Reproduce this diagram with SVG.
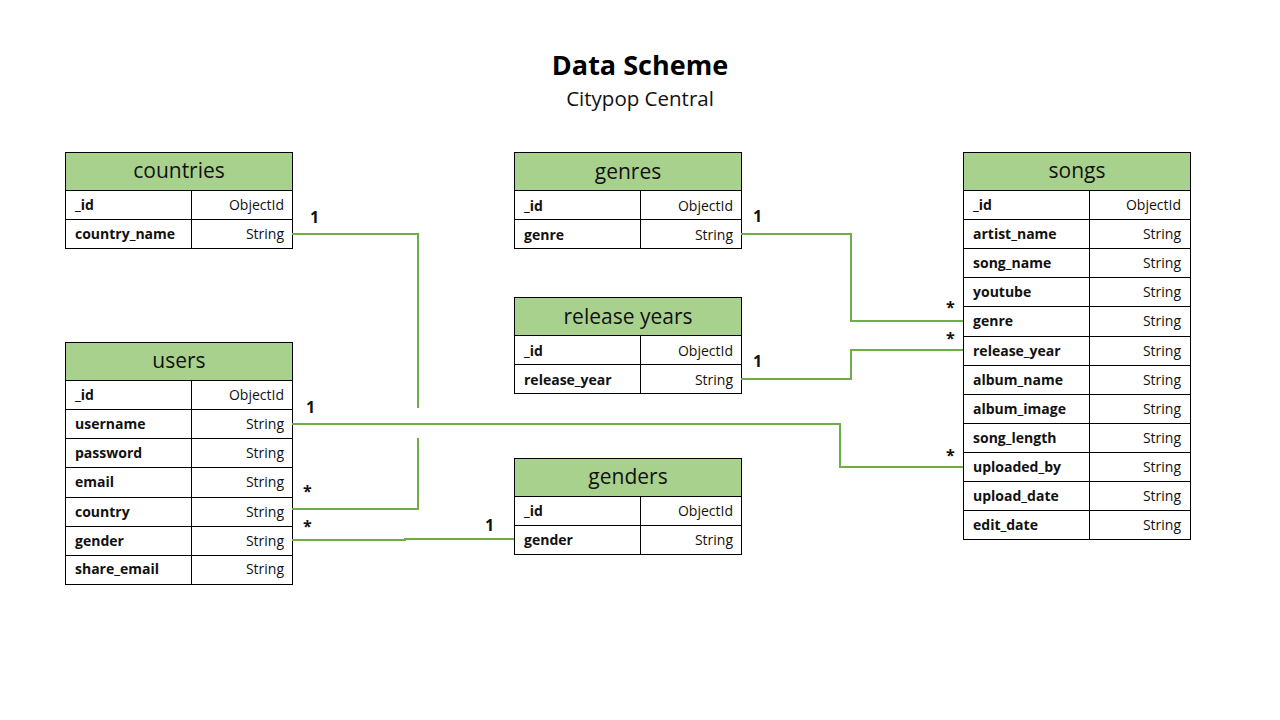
<svg xmlns="http://www.w3.org/2000/svg" width="1280" height="720" viewBox="0 0 1280 720">
<style>
.hd{fill:#A9D18E;stroke:#000;stroke-width:1}
.cell{fill:#fff;stroke:#000;stroke-width:1}
.ht{font-family:"Open Sans","Liberation Sans",sans-serif;font-size:21px;fill:#111;text-anchor:middle}
.fn{font-family:"Open Sans","Liberation Sans",sans-serif;font-size:14px;font-weight:bold;fill:#111}
.ty{font-family:"Open Sans","Liberation Sans",sans-serif;font-size:14px;fill:#111;text-anchor:end}
.conn{fill:none;stroke:#70AD47;stroke-width:2}
.lbl{font-family:"Open Sans","Liberation Sans",sans-serif;font-size:16px;font-weight:bold;fill:#111}
.title{font-family:"Open Sans","Liberation Sans",sans-serif;font-size:27px;font-weight:bold;fill:#000;text-anchor:middle}
.sub{font-family:"Open Sans","Liberation Sans",sans-serif;font-size:20.5px;fill:#111;text-anchor:middle}
</style>
<rect width="1280" height="720" fill="#fff"/>
<text class="title" x="640" y="75">Data Scheme</text>
<text class="sub" x="640" y="106">Citypop Central</text>

<g id="countries">
<rect class="hd" x="65.5" y="152.5" width="227" height="38"/>
<text class="ht" x="179" y="178">countries</text>
<rect class="cell" x="65.5" y="190.5" width="126" height="29"/><rect class="cell" x="191.5" y="190.5" width="101" height="29"/>
<text class="fn" x="75" y="210">_id</text><text class="ty" x="284" y="210">ObjectId</text>
<rect class="cell" x="65.5" y="219.5" width="126" height="29"/><rect class="cell" x="191.5" y="219.5" width="101" height="29"/>
<text class="fn" x="75" y="239">country_name</text><text class="ty" x="284" y="239">String</text>
</g>

<g id="users">
<rect class="hd" x="65.5" y="342.5" width="227" height="38"/>
<text class="ht" x="179" y="368">users</text>
<rect class="cell" x="65.5" y="380.5" width="126" height="29"/><rect class="cell" x="191.5" y="380.5" width="101" height="29"/>
<text class="fn" x="75" y="400">_id</text><text class="ty" x="284" y="400">ObjectId</text>
<rect class="cell" x="65.5" y="409.5" width="126" height="29"/><rect class="cell" x="191.5" y="409.5" width="101" height="29"/>
<text class="fn" x="75" y="429">username</text><text class="ty" x="284" y="429">String</text>
<rect class="cell" x="65.5" y="438.5" width="126" height="29"/><rect class="cell" x="191.5" y="438.5" width="101" height="29"/>
<text class="fn" x="75" y="458">password</text><text class="ty" x="284" y="458">String</text>
<rect class="cell" x="65.5" y="467.5" width="126" height="30"/><rect class="cell" x="191.5" y="467.5" width="101" height="30"/>
<text class="fn" x="75" y="487">email</text><text class="ty" x="284" y="487">String</text>
<rect class="cell" x="65.5" y="497.5" width="126" height="29"/><rect class="cell" x="191.5" y="497.5" width="101" height="29"/>
<text class="fn" x="75" y="517">country</text><text class="ty" x="284" y="517">String</text>
<rect class="cell" x="65.5" y="526.5" width="126" height="29"/><rect class="cell" x="191.5" y="526.5" width="101" height="29"/>
<text class="fn" x="75" y="546">gender</text><text class="ty" x="284" y="546">String</text>
<rect class="cell" x="65.5" y="555.5" width="126" height="29"/><rect class="cell" x="191.5" y="555.5" width="101" height="29"/>
<text class="fn" x="75" y="574">share_email</text><text class="ty" x="284" y="574">String</text>
</g>

<g id="genres">
<rect class="hd" x="514.5" y="152.5" width="227" height="38"/>
<text class="ht" x="628" y="179">genres</text>
<rect class="cell" x="514.5" y="190.5" width="126" height="29"/><rect class="cell" x="640.5" y="190.5" width="101" height="29"/>
<text class="fn" x="524" y="211">_id</text><text class="ty" x="733" y="211">ObjectId</text>
<rect class="cell" x="514.5" y="219.5" width="126" height="29"/><rect class="cell" x="640.5" y="219.5" width="101" height="29"/>
<text class="fn" x="524" y="240">genre</text><text class="ty" x="733" y="240">String</text>
</g>

<g id="release-years">
<rect class="hd" x="514.5" y="297.5" width="227" height="38"/>
<text class="ht" x="628" y="324">release years</text>
<rect class="cell" x="514.5" y="335.5" width="126" height="29"/><rect class="cell" x="640.5" y="335.5" width="101" height="29"/>
<text class="fn" x="524" y="356">_id</text><text class="ty" x="733" y="356">ObjectId</text>
<rect class="cell" x="514.5" y="364.5" width="126" height="29"/><rect class="cell" x="640.5" y="364.5" width="101" height="29"/>
<text class="fn" x="524" y="385">release_year</text><text class="ty" x="733" y="385">String</text>
</g>

<g id="genders">
<rect class="hd" x="514.5" y="458.5" width="227" height="38"/>
<text class="ht" x="628" y="484">genders</text>
<rect class="cell" x="514.5" y="496.5" width="126" height="29"/><rect class="cell" x="640.5" y="496.5" width="101" height="29"/>
<text class="fn" x="524" y="516">_id</text><text class="ty" x="733" y="516">ObjectId</text>
<rect class="cell" x="514.5" y="525.5" width="126" height="29"/><rect class="cell" x="640.5" y="525.5" width="101" height="29"/>
<text class="fn" x="524" y="545">gender</text><text class="ty" x="733" y="545">String</text>
</g>

<g id="songs">
<rect class="hd" x="963.5" y="152.5" width="227" height="38"/>
<text class="ht" x="1077" y="178">songs</text>
<rect class="cell" x="963.5" y="190.5" width="126" height="29"/><rect class="cell" x="1089.5" y="190.5" width="101" height="29"/>
<text class="fn" x="973" y="210">_id</text><text class="ty" x="1181" y="210">ObjectId</text>
<rect class="cell" x="963.5" y="219.5" width="126" height="29"/><rect class="cell" x="1089.5" y="219.5" width="101" height="29"/>
<text class="fn" x="973" y="239">artist_name</text><text class="ty" x="1181" y="239">String</text>
<rect class="cell" x="963.5" y="248.5" width="126" height="29"/><rect class="cell" x="1089.5" y="248.5" width="101" height="29"/>
<text class="fn" x="973" y="268">song_name</text><text class="ty" x="1181" y="268">String</text>
<rect class="cell" x="963.5" y="277.5" width="126" height="29"/><rect class="cell" x="1089.5" y="277.5" width="101" height="29"/>
<text class="fn" x="973" y="297">youtube</text><text class="ty" x="1181" y="297">String</text>
<rect class="cell" x="963.5" y="306.5" width="126" height="30"/><rect class="cell" x="1089.5" y="306.5" width="101" height="30"/>
<text class="fn" x="973" y="326">genre</text><text class="ty" x="1181" y="326">String</text>
<rect class="cell" x="963.5" y="336.5" width="126" height="29"/><rect class="cell" x="1089.5" y="336.5" width="101" height="29"/>
<text class="fn" x="973" y="356">release_year</text><text class="ty" x="1181" y="356">String</text>
<rect class="cell" x="963.5" y="365.5" width="126" height="29"/><rect class="cell" x="1089.5" y="365.5" width="101" height="29"/>
<text class="fn" x="973" y="385">album_name</text><text class="ty" x="1181" y="385">String</text>
<rect class="cell" x="963.5" y="394.5" width="126" height="29"/><rect class="cell" x="1089.5" y="394.5" width="101" height="29"/>
<text class="fn" x="973" y="414">album_image</text><text class="ty" x="1181" y="414">String</text>
<rect class="cell" x="963.5" y="423.5" width="126" height="29"/><rect class="cell" x="1089.5" y="423.5" width="101" height="29"/>
<text class="fn" x="973" y="443">song_length</text><text class="ty" x="1181" y="443">String</text>
<rect class="cell" x="963.5" y="452.5" width="126" height="29"/><rect class="cell" x="1089.5" y="452.5" width="101" height="29"/>
<text class="fn" x="973" y="472">uploaded_by</text><text class="ty" x="1181" y="472">String</text>
<rect class="cell" x="963.5" y="481.5" width="126" height="29"/><rect class="cell" x="1089.5" y="481.5" width="101" height="29"/>
<text class="fn" x="973" y="501">upload_date</text><text class="ty" x="1181" y="501">String</text>
<rect class="cell" x="963.5" y="510.5" width="126" height="29"/><rect class="cell" x="1089.5" y="510.5" width="101" height="29"/>
<text class="fn" x="973" y="530">edit_date</text><text class="ty" x="1181" y="530">String</text>
</g>

<g id="connectors">
<polyline class="conn" points="292,234 418,234 418,408"/>
<polyline class="conn" points="418,438 418,509 292,509"/>
<polyline class="conn" points="292,424 840,424 840,467 963,467"/>
<polyline class="conn" points="741,234 851,234 851,321 963,321"/>
<polyline class="conn" points="741,379 851,379 851,350 963,350"/>
<polyline class="conn" points="292,540 405,540 405,539 514,539"/>
<text class="lbl" x="310" y="223">1</text>
<text class="lbl" x="303" y="497">*</text>
<text class="lbl" x="306" y="413">1</text>
<text class="lbl" x="946" y="461">*</text>
<text class="lbl" x="753" y="222">1</text>
<text class="lbl" x="946" y="313">*</text>
<text class="lbl" x="753" y="367">1</text>
<text class="lbl" x="946" y="344">*</text>
<text class="lbl" x="303" y="532">*</text>
<text class="lbl" x="485" y="531">1</text>
</g>
</svg>
